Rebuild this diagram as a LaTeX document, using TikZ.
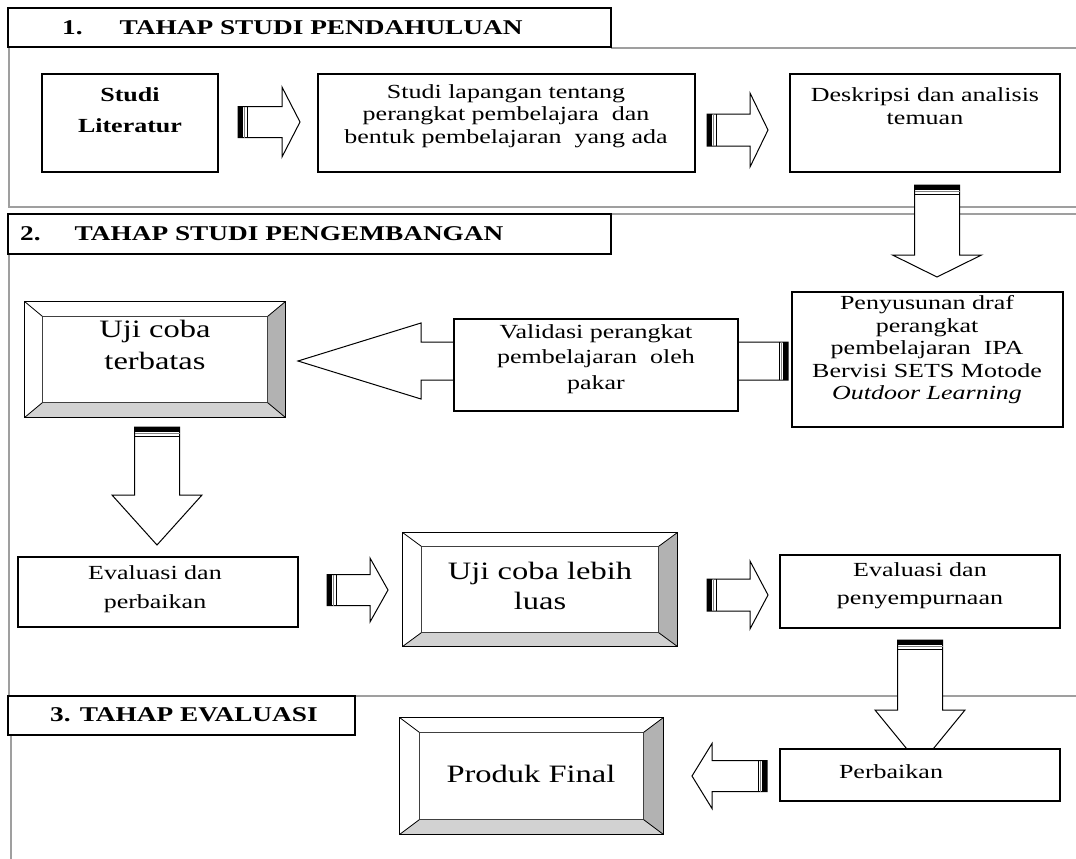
\documentclass[tikz,border=0pt]{standalone}
\usepackage{fontspec}
\setmainfont{Liberation Serif}[FakeStretch=1.3]
\usetikzlibrary{calc}
\tikzset{
  box/.style={draw, line width=1.2pt, fill=white, inner sep=0pt},
  hdr/.style={draw, line width=1.2pt, fill=white, inner sep=0pt},
  bevel/.style={draw, line width=1.3pt, fill=white, inner sep=0pt},
  frameline/.style={draw=gray!75, line width=1.6pt},
  txt/.style={align=center, inner sep=0pt, font=\fontsize{20}{22.5}\selectfont},
  bigtxt/.style={align=center, inner sep=0pt, font=\fontsize{25}{32}\selectfont},
  hdrtxt/.style={inner sep=0pt, anchor=west, font=\fontsize{21}{25}\selectfont\bfseries},
}
\newcommand{\bevelparts}[3]{%
  \fill[white] (#1.north west) -- (#1.north east) -- ($(#1.north east)+(-#2,#3)$) -- ($(#1.north west)+(#2,#3)$) -- cycle;
  \fill[white] (#1.north west) -- (#1.south west) -- ($(#1.south west)+(#2,-#3)$) -- ($(#1.north west)+(#2,#3)$) -- cycle;
  \fill[gray!60] (#1.north east) -- (#1.south east) -- ($(#1.south east)+(-#2,-#3)$) -- ($(#1.north east)+(-#2,#3)$) -- cycle;
  \fill[gray!35] (#1.south west) -- (#1.south east) -- ($(#1.south east)+(-#2,-#3)$) -- ($(#1.south west)+(#2,-#3)$) -- cycle;
  \draw[line width=1.3pt] (#1.north west) rectangle (#1.south east);
  \draw[line width=1pt, draw=black!75] ($(#1.north west)+(#2,#3)$) rectangle ($(#1.south east)+(-#2,-#3)$);
  \draw[line width=0.8pt] (#1.north west) -- ($(#1.north west)+(#2,#3)$)
                          (#1.north east) -- ($(#1.north east)+(-#2,#3)$)
                          (#1.south east) -- ($(#1.south east)+(-#2,-#3)$)
                          (#1.south west) -- ($(#1.south west)+(#2,-#3)$);
}
\newcommand{\blockarrow}[5]{%
  \begin{scope}[#1]
    \draw[line width=1pt, fill=white, line join=miter] (0,{-#4}) -- ({#2-#3},{-#4}) -- ({#2-#3},{-#5}) -- (#2,0) -- ({#2-#3},#5) -- ({#2-#3},#4) -- (0,#4) -- cycle;
    \fill (0,{-#4}) rectangle (5,#4);
    \draw[gray, line width=1pt] (6.8,{-#4}) -- (6.8,#4);
    \draw[line width=0.9pt] (9,{-#4}) -- (9,#4);
  \end{scope}}
\begin{document}
\begin{tikzpicture}[x=1pt, y=-1pt]
\useasboundingbox[fill=white] (0,0) rectangle (1076,859);

% section frames
\draw[frameline] (611,48) -- (1076,48);
\draw[frameline] (9,47) -- (9,207) -- (1076,207);
\draw[frameline] (611,214) -- (1076,214);
\draw[frameline] (9,254) -- (9,696) -- (1076,696);
\draw[frameline] (11,735) -- (11,859);

% headers
\node[hdr, minimum width=603, minimum height=39] (h1) at (309.5,27.5) {};
\node[hdrtxt] (h1t) at (62,28) {1.\hspace{37pt}TAHAP STUDI PENDAHULUAN};
\node[hdr, minimum width=603, minimum height=40] (h2) at (309.5,234) {};
\node[hdrtxt] (h2t) at (20,234) {2.\hspace{34pt}TAHAP STUDI PENGEMBANGAN};
\node[hdr, minimum width=347, minimum height=39] (h3) at (181.5,715.5) {};
\node[hdrtxt] (h3t) at (50,715) {3. TAHAP EVALUASI};

% section 1
\node[box, minimum width=176, minimum height=98] (lit) at (130,123) {};
\node[txt, font=\fontsize{20}{31}\selectfont\bfseries] (litt) at (130,110) {Studi\\Literatur};
\node[box, minimum width=377, minimum height=98] (lap) at (506.5,123) {};
\node[txt] (lapt) at (506,116) {Studi lapangan tentang\\perangkat pembelajara\ \ dan\\bentuk pembelajaran\ \ yang ada};
\node[box, minimum width=270, minimum height=98] (desk) at (925,123) {};
\node[txt] (deskt) at (925,106) {Deskripsi dan analisis\\temuan};

\blockarrow{shift={(238,122)}}{62}{18}{15.5}{35}
\blockarrow{shift={(707,130)}}{61}{18}{16}{37}
\blockarrow{shift={(937,185)}, rotate=-90}{92}{22}{22.5}{44.5}

% section 2
\blockarrow{shift={(788,361)}, rotate=180}{490}{123}{19}{38}
\node[box, minimum width=284, minimum height=92] (val) at (596,365) {};
\node[txt, font=\fontsize{20}{25.5}\selectfont] (valt) at (596,359) {Validasi perangkat\\pembelajaran\ \ oleh\\pakar};
\node[box, minimum width=271, minimum height=135] (draf) at (927.5,359.5) {};
\node[txt] (draft) at (927,350) {Penyusunan draf\\perangkat\\pembelajaran\ \ IPA\\Bervisi SETS Motode\\\textit{Outdoor Learning}};

\node[bevel, minimum width=260, minimum height=115] (ujiA) at (155,359.5) {};
\bevelparts{ujiA}{18}{15}
\node[bigtxt] (ujiAt) at (155,345) {Uji coba\\terbatas};

\blockarrow{shift={(157,427)}, rotate=-90}{118}{50}{22.5}{45}

\node[box, minimum width=280, minimum height=70] (ev1) at (158,592) {};
\node[txt, font=\fontsize{20}{29}\selectfont] (ev1t) at (155,589) {Evaluasi dan\\perbaikan};
\blockarrow{shift={(327,590)}}{61}{18}{15.5}{32}
\node[bevel, minimum width=274, minimum height=113] (ujiB) at (540,589.5) {};
\bevelparts{ujiB}{19}{14}
\node[bigtxt, font=\fontsize{25}{30}\selectfont] (ujiBt) at (540,586) {Uji coba lebih\\luas};
\blockarrow{shift={(707,595)}}{61}{18}{16}{34}
\node[box, minimum width=280, minimum height=73] (ev2) at (920,591.5) {};
\node[txt, font=\fontsize{20}{28}\selectfont] (ev2t) at (920,586) {Evaluasi dan\\penyempurnaan};
\blockarrow{shift={(920,640)}, rotate=-90}{125}{55}{22.5}{45}

% section 3
\node[bevel, minimum width=263, minimum height=116] (prod) at (531.5,776) {};
\bevelparts{prod}{20}{15}
\node[bigtxt] (prodt) at (531,774) {Produk Final};
\blockarrow{shift={(767,776)}, rotate=180}{75}{20}{15.5}{32.5}
\node[box, minimum width=280, minimum height=52] (perb) at (920,775) {};
\node[txt] (perbt) at (891,772) {Perbaikan};
\end{tikzpicture}
\end{document}
